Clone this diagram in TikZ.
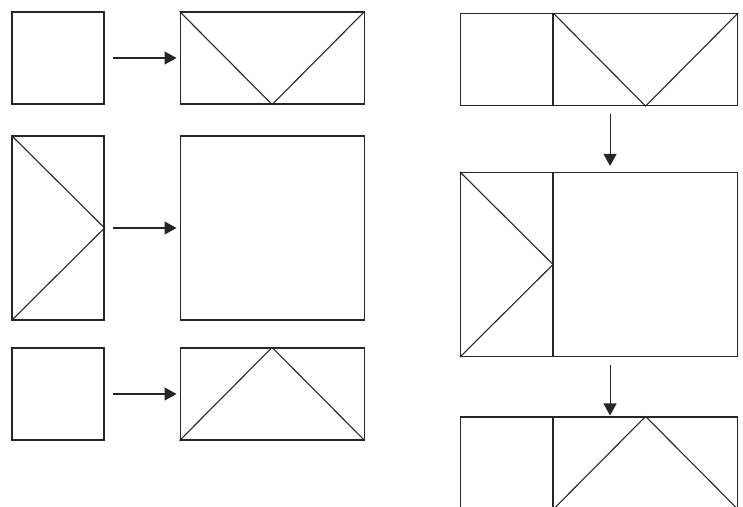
\documentclass[tikz,border=0pt]{standalone}
\usetikzlibrary{positioning}
\usetikzlibrary{arrows.meta}
\tikzset{node distance=75pt,
    box/.style={
        draw,
        inner sep=0pt,
        minimum width=92pt,
        minimum height=92pt},
    wide/.style={box, minimum width=184pt},
    tall/.style={box, minimum height=184pt},
    big/.style={box, minimum width=184pt, minimum height=184pt},
    arr/.style={
        draw,
        -{Triangle[length=12pt,width=13pt]},
        shorten <=8pt,
        shorten >=3pt}}

\begin{document}
\begin{tikzpicture}[line width=1.1pt, draw=black!85]
        \clip (0,0) rectangle (743pt,-506pt);
        % left column
        \node[box] (a1) at (58pt,-58pt) {};
        \node[wide, right=of a1] (b1) {};
        \node[tall] (a2) at (58pt,-228pt) {};
        \node[big, right=of a2] (b2) {};
        \node[box] (a3) at (58pt,-394pt) {};
        \node[wide, right=of a3] (b3) {};
        \draw[arr] (a1) -- (b1);
        \draw[arr] (a2) -- (b2);
        \draw[arr] (a3) -- (b3);
        \draw (b1.north west) -- (b1.south) -- (b1.north east);
        \draw (a2.north west) -- (a2.east) -- (a2.south west);
        \draw (b3.south west) -- (b3.north) -- (b3.south east);
        % right column
        \node[box] (c1) at (506.5pt,-59.5pt) {};
        \node[wide, right=0pt of c1] (d1) {};
        \node[tall] (c2) at (506.5pt,-264.5pt) {};
        \node[big, right=0pt of c2] (d2) {};
        \node[box] (c3) at (506.5pt,-463pt) {};
        \node[wide, right=0pt of c3] (d3) {};
        \draw[arr, shorten >=6pt] ([xshift=57pt]d1.south west) -- ([xshift=57pt]d2.north west);
        \draw[arr, shorten >=1pt] ([xshift=57pt]d2.south west) -- ([xshift=57pt]d3.north west);
        \draw (d1.north west) -- (d1.south) -- (d1.north east);
        \draw (c2.north west) -- (c2.east) -- (c2.south west);
        \draw (d3.south west) -- (d3.north) -- (d3.south east);
    \end{tikzpicture}
\end{document}
